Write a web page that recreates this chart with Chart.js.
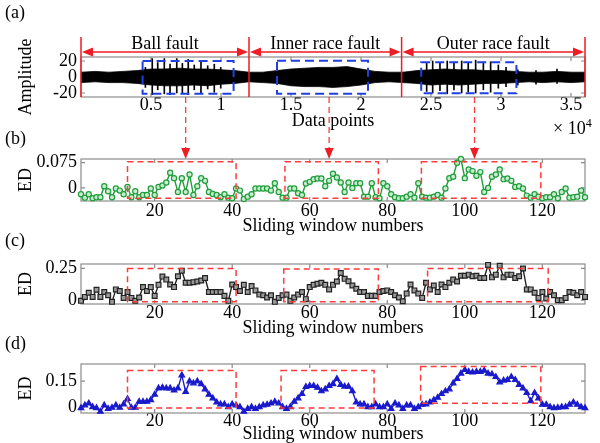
<!DOCTYPE html>
<html>
<head>
<meta charset="utf-8">
<script src="https://cdn.jsdelivr.net/npm/chart.js@4.4.1/dist/chart.umd.min.js"></script>
<style>
  body { margin: 0; background: #fff; }
  #fig { position: relative; width: 600px; height: 443px; overflow: hidden; font-family: "Liberation Serif", "Times New Roman", serif; }
  #fig canvas { position: absolute; left: 0; }
  .lab { position: absolute; font-size: 18px; line-height: 20px; color: #000; }
  .lab sup { font-size: 12px; vertical-align: 7px; line-height: 0; }
</style>
</head>
<body>
<div id="fig">
  <canvas id="chartA" width="600" height="134" style="top:0px"></canvas>
  <canvas id="chartB" width="600" height="142" style="top:97px"></canvas>
  <canvas id="chartC" width="600" height="100" style="top:239px"></canvas>
  <canvas id="chartD" width="600" height="110" style="top:339px"></canvas>
  <div class="lab" style="left:5px;top:2px">(a)</div>
  <div class="lab" style="left:5px;top:128px">(b)</div>
  <div class="lab" style="left:5px;top:230px">(c)</div>
  <div class="lab" style="left:5px;top:333px">(d)</div>
  <div class="lab" style="left:553px;top:118px">× 10<sup>4</sup></div>
</div>
<script>
// ---- panel (a): raw vibration signal, read as a core envelope plus impulse spikes ----
const sampleX = [0,1000,2000,3000,4000,5000,6000,7000,8000,9000,10000,11000,12000,13000,14000,15000,16000,17000,18000,
  19000,20000,21000,22000,23000,24000,25000,26000,27000,28000,29000,30000,31000,32000,33000,34000,35000,36000];
const bandHi = [6,7,6,7,8,10,10,11,10,10,9,8,6,6,8,10,11,12,12,13,10,7,6,6,8,9,10,9,9,8,8,7,6,6,7,6,6];
const bandLo = [-7,-6,-7,-7,-8,-10,-11,-11,-10,-11,-9,-8,-6,-7,-8,-11,-12,-12,-13,-12,-10,-7,-6,-7,-8,-10,-9,-10,-9,-8,-8,-7,-6,-7,-6,-7,-6];
const spikeX = [4600,5090,5480,5950,6360,6840,7240,7660,8090,8570,9050,9520,9980,
  24690,25120,25640,26160,26640,27190,27660,28190,28740,29260,29810,30360,31200,32500,34000];
const spikeHi = [12,23,18,23,16,23,17,22,15,20,14,16,12,17,20,18,20,17,20,18,21,17,19,15,12,9,8,10];
const spikeLo = [-13,-22,-16,-21,-22,-20,-21,-22,-16,-20,-15,-19,-14,-18,-20,-17,-21,-16,-20,-19,-20,-16,-19,-14,-12,-10,-9,-8];
const ampTicks = [-20, 0, 20];
const pointTicks = [5000, 10000, 15000, 20000, 25000, 30000, 35000];
const faultNames = ['Ball fault', 'Inner race fault', 'Outer race fault'];
const faultEdges = [0, 12000, 22900, 36000];
const boxesA = [[4400, 10900, -21, 20], [14000, 20500, -21, 20.4], [24300, 31100, -20.4, 18.4]];

// ---- panels (b)-(d): ED per sliding window ----
const edB = [-0.019,-0.029,-0.019,-0.031,-0.028,-0.028,0.005,-0.010,-0.028,-0.002,
  -0.008,-0.019,0.003,-0.028,-0.010,-0.028,-0.021,-0.021,-0.002,-0.021,
  0.003,0.007,0.016,0.045,0.029,-0.012,0.029,-0.012,0.040,-0.021,
  0.005,0.029,0.021,-0.012,-0.018,-0.021,-0.028,-0.019,-0.029,-0.031,
  -0.002,-0.008,-0.033,-0.026,-0.019,-0.002,-0.002,-0.002,-0.002,-0.008,
  0.014,-0.012,-0.029,-0.029,-0.002,-0.002,-0.016,-0.021,0.013,0.018,
  0.026,0.028,0.028,0.005,0.021,0.042,0.031,0.016,-0.012,0.016,
  0.000,0.014,0.014,-0.026,-0.026,0.014,-0.028,-0.031,0.014,0.005,
  -0.019,-0.028,-0.031,-0.031,-0.026,-0.019,-0.029,0.014,-0.026,-0.029,
  -0.029,-0.026,-0.021,-0.029,-0.002,0.029,0.033,0.075,0.086,0.029,
  0.055,0.050,0.036,0.047,-0.012,0.000,0.033,0.040,0.055,0.026,
  0.028,0.021,0.003,0.005,-0.002,-0.023,-0.029,-0.019,-0.026,-0.031,
  -0.028,-0.028,-0.019,-0.031,-0.012,-0.002,-0.029,-0.028,-0.026,-0.008,
  -0.028];
const edC = [-0.005,0.026,0.059,0.026,0.082,0.026,0.064,0.039,-0.013,0.085,
  0.072,0.018,0.064,0.018,-0.005,0.021,0.103,0.072,0.103,0.034,
  0.121,0.186,0.162,0.124,0.103,0.188,0.232,0.137,0.137,0.142,
  0.147,0.155,0.175,0.064,0.064,0.064,0.064,0.034,-0.005,0.124,
  0.103,0.072,0.121,0.064,0.111,0.077,0.044,0.039,0.021,0.039,
  -0.013,0.018,0.039,0.044,-0.005,0.021,0.044,0.064,0.008,0.103,
  0.121,0.129,0.137,0.121,0.085,0.121,0.147,0.214,0.168,0.149,
  0.116,0.090,0.064,0.064,0.034,0.034,0.034,0.064,0.072,0.077,
  0.064,0.039,0.021,-0.008,0.052,0.124,0.077,0.052,0.018,0.137,
  0.085,0.116,0.064,0.124,0.103,0.137,0.162,0.147,0.193,0.193,
  0.201,0.188,0.193,0.175,0.175,0.278,0.180,0.201,0.271,0.180,
  0.201,0.201,0.175,0.188,0.250,0.085,0.085,0.059,0.018,0.064,
  0.013,0.064,0.039,0.000,0.000,0.018,0.064,0.059,0.039,0.064,
  0.026];
const edD = [-0.006,0.010,0.021,0.000,-0.006,-0.027,0.010,-0.010,-0.004,0.010,
  -0.004,0.016,0.047,-0.004,-0.004,0.031,0.031,0.031,0.041,0.072,
  0.109,0.113,0.109,0.109,0.097,0.109,0.185,0.088,0.150,0.138,
  0.150,0.134,0.103,0.072,0.051,0.027,0.016,0.016,0.000,0.016,
  0.010,0.000,-0.027,-0.010,0.000,-0.010,0.000,0.010,0.014,0.021,
  0.031,0.021,0.000,-0.010,0.000,0.031,0.051,0.076,0.117,0.123,
  0.123,0.113,0.092,0.103,0.123,0.134,0.164,0.129,0.119,0.119,
  0.092,0.027,0.016,0.016,0.000,0.000,0.016,0.000,0.000,0.016,
  -0.010,0.021,0.010,-0.010,0.010,0.010,-0.010,0.000,0.014,0.016,
  0.027,0.041,0.055,0.076,0.092,0.103,0.138,0.164,0.195,0.216,
  0.205,0.201,0.205,0.205,0.212,0.195,0.191,0.175,0.144,0.154,
  0.158,0.175,0.158,0.129,0.109,0.082,0.035,0.082,0.051,0.014,
  0.014,0.000,-0.006,-0.004,0.000,0.000,0.014,0.027,0.014,0.000,
  -0.006];
const windowNo = edB.map((_, i) => i + 1);
const windowTicks = [20, 40, 60, 80, 100, 120];
const boxesB = [[13, 41, -0.031, 0.078], [53.6, 77.7, -0.031, 0.078], [88.8, 119.6, -0.031, 0.078]];
const boxesC = [[13, 41, -0.013, 0.25], [53.3, 77.7, -0.013, 0.245], [90.4, 121.5, -0.013, 0.25]];
const boxesD = [[13, 41, -0.006, 0.212], [52.6, 76.6, -0.006, 0.212], [88.6, 119.6, 0.021, 0.236]];
const arrowAt = [28, 65, 102.5];   // window numbers where the (a)->(b) arrows land

Chart.defaults.font.family = '"Liberation Serif", "Times New Roman", serif';
Chart.defaults.font.size = 18;
Chart.defaults.color = '#000';

// gray box round the plot with inward tick marks, like the MATLAB axes
const frame = {
    id: 'frame',
    beforeDatasetsDraw(chart) {
        const { ctx, chartArea: a, scales: { x, y } } = chart;
        ctx.save();
        ctx.strokeStyle = '#8c8c8c';
        ctx.lineWidth = 1.2;
        ctx.strokeRect(a.left, a.top, a.right - a.left, a.bottom - a.top);
        ctx.beginPath();
        x.ticks.forEach(t => {
            const px = x.getPixelForValue(t.value);
            ctx.moveTo(px, a.bottom); ctx.lineTo(px, a.bottom - 4);
            ctx.moveTo(px, a.top); ctx.lineTo(px, a.top + 4);
        });
        y.ticks.forEach(t => {
            const py = y.getPixelForValue(t.value);
            ctx.moveTo(a.left, py); ctx.lineTo(a.left + 4, py);
            ctx.moveTo(a.right, py); ctx.lineTo(a.right - 4, py);
        });
        ctx.stroke();
        ctx.restore();
    }
};

// dashed rectangles given in data units
function dashedBoxes(id, boxes, color, dash, width) {
    return {
        id: id,
        afterDatasetsDraw(chart) {
            const { ctx, scales: { x, y } } = chart;
            ctx.save();
            ctx.strokeStyle = color;
            ctx.lineWidth = width;
            ctx.setLineDash(dash);
            boxes.forEach(([x0, x1, y0, y1]) => {
                const l = x.getPixelForValue(x0), r = x.getPixelForValue(x1);
                const t = y.getPixelForValue(y1), b = y.getPixelForValue(y0);
                ctx.strokeRect(l, t, r - l, b - t);
            });
            ctx.restore();
        }
    };
}

function arrowHead(ctx, tipX, tipY, dx, dy) {
    // dx,dy: unit direction the arrow points to
    const len = 11, half = 4.5;
    const bx = tipX - dx * len, by = tipY - dy * len;
    ctx.beginPath();
    ctx.moveTo(tipX, tipY);
    ctx.lineTo(bx - dy * half, by + dx * half);
    ctx.lineTo(bx + dy * half, by - dx * half);
    ctx.closePath();
    ctx.fill();
}

// red segment lines, double arrows and fault names above panel (a)
const faultMarks = {
    id: 'faultMarks',
    afterDatasetsDraw(chart) {
        const { ctx, chartArea: a, scales: { x } } = chart;
        const xs = faultEdges.map(v => x.getPixelForValue(v));
        ctx.save();
        ctx.strokeStyle = '#ee1c24';
        ctx.fillStyle = '#ee1c24';
        ctx.lineWidth = 1.5;
        ctx.beginPath();
        xs.forEach(px => { ctx.moveTo(px, a.top - 20); ctx.lineTo(px, a.bottom); });
        const ay = a.top - 5;
        for (let i = 0; i < xs.length - 1; i++) {
            ctx.moveTo(xs[i] + 4, ay); ctx.lineTo(xs[i + 1] - 4, ay);
        }
        ctx.stroke();
        for (let i = 0; i < xs.length - 1; i++) {
            arrowHead(ctx, xs[i] + 1, ay, -1, 0);
            arrowHead(ctx, xs[i + 1] - 1, ay, 1, 0);
        }
        ctx.fillStyle = '#000';
        ctx.font = '18px "Liberation Serif", serif';
        ctx.textAlign = 'center';
        ctx.textBaseline = 'middle';
        faultNames.forEach((name, i) => ctx.fillText(name, (xs[i] + xs[i + 1]) / 2, a.top - 13));
        ctx.restore();
    }
};

// dashed red arrows coming down from panel (a) into panel (b)
const connectors = {
    id: 'connectors',
    afterDraw(chart) {
        const { ctx, chartArea: a, scales: { x } } = chart;
        ctx.save();
        ctx.strokeStyle = '#ff3b3b';
        ctx.fillStyle = '#ee1c24';
        ctx.lineWidth = 1.3;
        arrowAt.forEach(v => {
            const px = x.getPixelForValue(v);
            ctx.setLineDash([6, 4]);
            ctx.beginPath();
            ctx.moveTo(px, 0);
            ctx.lineTo(px, a.top - 10);
            ctx.stroke();
            ctx.setLineDash([]);
            arrowHead(ctx, px, a.top, 0, 1);
        });
        ctx.restore();
    }
};

function axes(opt) {
    return {
        x: {
            type: 'linear', min: opt.xMin, max: opt.xMax, offset: false,
            grid: { display: false, drawTicks: false }, border: { display: false },
            afterBuildTicks: s => { s.ticks = opt.xTicks.map(v => ({ value: v })); },
            ticks: { padding: opt.xPad, maxRotation: 0, autoSkip: false, font: { lineHeight: 1 }, callback: opt.xFmt },
            title: { display: true, text: opt.xTitle, padding: { top: 0, bottom: opt.titlePad }, font: { lineHeight: 1 } },
            afterFit: s => { s.height = opt.xAxisH; }
        },
        y: {
            min: opt.yMin, max: opt.yMax,
            grid: { display: false, drawTicks: false }, border: { display: false },
            afterBuildTicks: s => { s.ticks = opt.yTicks.map(v => ({ value: v })); },
            ticks: { padding: 4, autoSkip: false, font: { lineHeight: 1 }, callback: v => String(v) },
            title: { display: true, text: opt.yTitle, padding: { top: 17, bottom: 0 }, font: { lineHeight: 1 } },
            afterFit: s => { s.width = 81; }
        }
    };
}

// panel (a)
new Chart(document.getElementById('chartA'), {
    type: 'line',
    data: {
        datasets: [
            { data: sampleX.map((x, i) => ({ x: x, y: bandHi[i] })), borderColor: '#000', borderWidth: 0.8,
              backgroundColor: '#000', fill: '+1', pointRadius: 0 },
            { data: sampleX.map((x, i) => ({ x: x, y: bandLo[i] })), borderColor: '#000', borderWidth: 0.8,
              fill: false, pointRadius: 0 },
            { type: 'bar', data: spikeX.map((x, i) => ({ x: x, y: [spikeLo[i], spikeHi[i]] })),
              backgroundColor: '#000', borderWidth: 0, barThickness: 1 }
        ]
    },
    options: {
        responsive: false, animation: false, devicePixelRatio: 1,
        layout: { padding: { top: 57, right: 15, left: 0, bottom: 0 } },
        plugins: { legend: { display: false }, tooltip: { enabled: false } },
        scales: axes({ xMin: 0, xMax: 36000, xTicks: pointTicks, xFmt: v => String(v / 10000), xPad: -1,
            xTitle: 'Data points', titlePad: 4, xAxisH: 37,
            yMin: -25, yMax: 25, yTicks: ampTicks, yTitle: 'Amplitude' })
    },
    plugins: [frame, dashedBoxes('boxesA', boxesA, '#1f3fe0', [9, 5], 2), faultMarks]
});

function edChart(id, values, style, range, boxes, layout, extra) {
    return new Chart(document.getElementById(id), {
        type: 'line',
        data: {
            labels: windowNo,
            datasets: [{
                data: windowNo.map((w, i) => ({ x: w, y: values[i] })),
                borderColor: style.line, borderWidth: 1.4, tension: 0, clip: 8,
                pointStyle: style.shape, pointRadius: style.r, pointBorderWidth: 1.2,
                pointBorderColor: style.edge, pointBackgroundColor: style.fill
            }]
        },
        options: {
            responsive: false, animation: false, devicePixelRatio: 1,
            layout: { padding: { top: layout.top, right: 15, left: 0, bottom: 0 } },
            plugins: { legend: { display: false }, tooltip: { enabled: false } },
            scales: axes({ xMin: 1, xMax: 131, xTicks: windowTicks, xFmt: v => String(v), xPad: layout.xPad,
                xTitle: 'Sliding window numbers', titlePad: layout.titlePad, xAxisH: layout.axisH,
                yMin: range[0], yMax: range[1], yTicks: range[2], yTitle: 'ED' })
        },
        plugins: [frame, dashedBoxes(id + 'Boxes', boxes, '#ff3b3b', [6, 4], 1.5)].concat(extra)
    });
}

edChart('chartB', edB, { line: '#1f9e3a', edge: '#1f9e3a', fill: '#c8ecd0', shape: 'circle', r: 2.6 },
    [-0.039, 0.086, [0, 0.075]], boxesB, { top: 62, axisH: 38, titlePad: 4, xPad: 1 }, [connectors]);
edChart('chartC', edC, { line: '#222', edge: '#222', fill: '#9a9a9a', shape: 'rect', r: 3.4 },
    [-0.03, 0.285, [0, 0.25]], boxesC, { top: 25, axisH: 35, titlePad: 2, xPad: 0 }, []);
edChart('chartD', edD, { line: '#1a1acc', edge: '#1a1acc', fill: '#1a1acc', shape: 'triangle', r: 3.2 },
    [-0.035, 0.25, [0, 0.15]], boxesD, { top: 25, axisH: 36, titlePad: 6, xPad: -1 }, []);
</script>
</body>
</html>
